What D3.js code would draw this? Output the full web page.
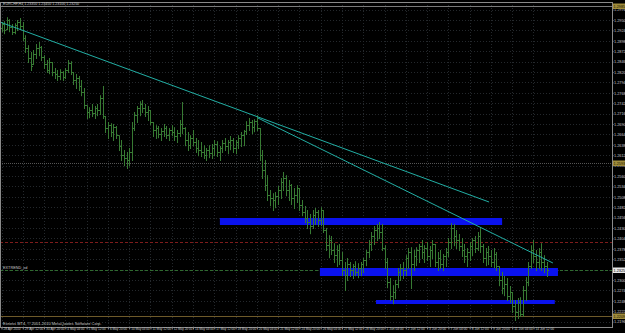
<!DOCTYPE html>
<html>
<head>
<meta charset="utf-8">
<script src="https://cdn.jsdelivr.net/npm/d3@7"></script>
<style>
  body { margin: 0; background: #000; }
  svg { display: block; font-family: "Liberation Sans", Arial, sans-serif; }
</style>
</head>
<body>
<div id="chart"></div>
<script>
// ---- data ----
const symbolName = "EURCHF,H4";
const copyrightText = "Exness MT4, \u00a9 2001-2010 MetaQuotes Software Corp.";
const lineLabel = "EXTREND_ed";

// one label every 8 bars
const timeLabels = ["28 Apr 2010", "29 Apr 12:00", "30 Apr 20:00", "4 May 04:00", "5 May 12:00",
  "6 May 20:00", "10 May 04:00", "11 May 12:00", "12 May 20:00", "14 May 04:00", "17 May 12:00",
  "18 May 20:00", "20 May 04:00", "21 May 12:00", "24 May 20:00", "26 May 04:00", "27 May 12:00",
  "28 May 20:00", "1 Jun 04:00", "2 Jun 12:00", "3 Jun 20:00", "7 Jun 04:00", "8 Jun 12:00",
  "9 Jun 20:00", "11 Jun 04:00", "14 Jun 12:00"];
const timeLabelBars = [0, 8, 16, 24, 32, 40, 48, 56, 64, 72, 80, 88, 96, 104, 112, 120, 128, 136,
  144, 152, 160, 168, 176, 184, 192, 200];

const priceTicks = [1.2976, 1.2950, 1.2924, 1.2898, 1.2872, 1.2846, 1.2820, 1.2794, 1.2768, 1.2742,
  1.2716, 1.2690, 1.2664, 1.2638, 1.2612, 1.2586, 1.2560, 1.2534, 1.2508, 1.2482, 1.2456, 1.2430,
  1.2404, 1.2378, 1.2352, 1.2326, 1.2300, 1.2274, 1.2248, 1.2222, 1.2196];

// open, high, low, close
const ohlc = [
  [1.2930,1.2945,1.2922,1.2940],[1.2940,1.2947,1.2917,1.2925],[1.2927,1.2957,1.2927,1.2950],[1.2950,1.2952,1.2922,1.2932],
  [1.2932,1.2940,1.2915,1.2920],[1.2920,1.2942,1.2917,1.2937],[1.2937,1.2950,1.2925,1.2945],[1.2945,1.2955,1.2927,1.2935],
  [1.2935,1.2945,1.2900,1.2905],[1.2905,1.2912,1.2870,1.2880],[1.2880,1.2887,1.2845,1.2855],[1.2855,1.2870,1.2825,1.2835],
  [1.2840,1.2875,1.2840,1.2865],[1.2865,1.2890,1.2855,1.2880],[1.2880,1.2895,1.2862,1.2882],[1.2882,1.2885,1.2850,1.2857],
  [1.2857,1.2862,1.2830,1.2840],[1.2840,1.2850,1.2820,1.2825],[1.2825,1.2855,1.2817,1.2845],[1.2845,1.2845,1.2812,1.2820],
  [1.2820,1.2830,1.2805,1.2815],[1.2815,1.2825,1.2800,1.2810],[1.2810,1.2827,1.2802,1.2820],[1.2820,1.2822,1.2800,1.2807],
  [1.2807,1.2830,1.2805,1.2825],[1.2825,1.2850,1.2820,1.2842],[1.2842,1.2847,1.2815,1.2820],[1.2820,1.2820,1.2790,1.2800],
  [1.2800,1.2815,1.2780,1.2805],[1.2805,1.2810,1.2775,1.2785],[1.2785,1.2800,1.2762,1.2770],[1.2770,1.2780,1.2730,1.2737],
  [1.2737,1.2737,1.2705,1.2720],[1.2720,1.2732,1.2707,1.2725],[1.2725,1.2740,1.2710,1.2717],[1.2717,1.2735,1.2705,1.2730],
  [1.2730,1.2740,1.2712,1.2725],[1.2725,1.2762,1.2715,1.2755],[1.2755,1.2785,1.2705,1.2710],[1.2710,1.2710,1.2670,1.2680],
  [1.2680,1.2695,1.2655,1.2687],[1.2687,1.2692,1.2660,1.2670],[1.2670,1.2690,1.2650,1.2682],[1.2682,1.2685,1.2655,1.2662],
  [1.2662,1.2662,1.2625,1.2635],[1.2635,1.2650,1.2600,1.2612],[1.2612,1.2625,1.2587,1.2605],[1.2605,1.2620,1.2580,1.2600],
  [1.2600,1.2630,1.2587,1.2620],[1.2620,1.2695,1.2600,1.2680],[1.2680,1.2720,1.2675,1.2712],[1.2712,1.2735,1.2695,1.2730],
  [1.2730,1.2747,1.2712,1.2740],[1.2740,1.2750,1.2720,1.2730],[1.2730,1.2740,1.2710,1.2720],[1.2720,1.2735,1.2700,1.2725],
  [1.2725,1.2725,1.2690,1.2695],[1.2695,1.2695,1.2660,1.2675],[1.2675,1.2687,1.2655,1.2680],[1.2680,1.2685,1.2657,1.2665],
  [1.2665,1.2680,1.2650,1.2672],[1.2672,1.2690,1.2660,1.2680],[1.2680,1.2685,1.2655,1.2662],[1.2662,1.2680,1.2650,1.2675],
  [1.2675,1.2687,1.2662,1.2670],[1.2670,1.2682,1.2650,1.2660],[1.2660,1.2675,1.2645,1.2667],[1.2667,1.2700,1.2660,1.2690],
  [1.2690,1.2745,1.2667,1.2680],[1.2680,1.2682,1.2637,1.2650],[1.2650,1.2670,1.2625,1.2637],[1.2637,1.2662,1.2630,1.2655],
  [1.2655,1.2675,1.2637,1.2645],[1.2645,1.2655,1.2620,1.2630],[1.2630,1.2650,1.2612,1.2625],[1.2625,1.2645,1.2610,1.2620],
  [1.2620,1.2637,1.2605,1.2612],[1.2612,1.2630,1.2600,1.2625],[1.2625,1.2637,1.2607,1.2617],[1.2617,1.2640,1.2605,1.2630],
  [1.2630,1.2650,1.2612,1.2640],[1.2640,1.2647,1.2610,1.2620],[1.2620,1.2635,1.2600,1.2630],[1.2630,1.2650,1.2620,1.2642],
  [1.2642,1.2655,1.2625,1.2635],[1.2635,1.2650,1.2617,1.2645],[1.2645,1.2660,1.2627,1.2650],[1.2650,1.2655,1.2620,1.2630],
  [1.2630,1.2650,1.2617,1.2645],[1.2645,1.2662,1.2630,1.2655],[1.2655,1.2670,1.2635,1.2662],[1.2662,1.2675,1.2637,1.2672],
  [1.2672,1.2697,1.2665,1.2687],[1.2687,1.2705,1.2675,1.2695],[1.2695,1.2700,1.2667,1.2682],[1.2682,1.2702,1.2672,1.2697],
  [1.2697,1.2712,1.2675,1.2680],[1.2680,1.2680,1.2600,1.2612],[1.2612,1.2625,1.2555,1.2575],[1.2575,1.2600,1.2525,1.2537],
  [1.2537,1.2562,1.2500,1.2512],[1.2512,1.2525,1.2487,1.2505],[1.2505,1.2517,1.2475,1.2500],[1.2500,1.2520,1.2482,1.2510],
  [1.2510,1.2535,1.2490,1.2525],[1.2525,1.2555,1.2505,1.2545],[1.2545,1.2570,1.2525,1.2555],[1.2555,1.2562,1.2512,1.2525],
  [1.2525,1.2550,1.2500,1.2537],[1.2537,1.2540,1.2490,1.2505],[1.2505,1.2530,1.2480,1.2512],[1.2512,1.2537,1.2495,1.2530],
  [1.2530,1.2530,1.2475,1.2487],[1.2487,1.2500,1.2462,1.2470],[1.2470,1.2485,1.2445,1.2455],[1.2455,1.2475,1.2430,1.2445],
  [1.2445,1.2465,1.2417,1.2435],[1.2435,1.2475,1.2430,1.2462],[1.2462,1.2480,1.2440,1.2470],[1.2470,1.2475,1.2435,1.2450],
  [1.2450,1.2482,1.2437,1.2475],[1.2475,1.2475,1.2420,1.2425],[1.2425,1.2430,1.2375,1.2387],[1.2387,1.2412,1.2357,1.2400],
  [1.2400,1.2410,1.2365,1.2375],[1.2375,1.2392,1.2345,1.2362],[1.2362,1.2387,1.2335,1.2375],[1.2375,1.2390,1.2340,1.2350],
  [1.2350,1.2370,1.2312,1.2325],[1.2325,1.2345,1.2275,1.2312],[1.2312,1.2355,1.2300,1.2340],[1.2340,1.2345,1.2310,1.2325],
  [1.2325,1.2340,1.2305,1.2335],[1.2335,1.2347,1.2312,1.2320],[1.2320,1.2342,1.2307,1.2330],[1.2330,1.2345,1.2312,1.2340],
  [1.2340,1.2355,1.2320,1.2350],[1.2350,1.2375,1.2337,1.2370],[1.2370,1.2400,1.2357,1.2390],[1.2390,1.2420,1.2375,1.2410],
  [1.2410,1.2435,1.2390,1.2425],[1.2425,1.2440,1.2400,1.2430],[1.2430,1.2445,1.2405,1.2420],[1.2420,1.2440,1.2375,1.2380],
  [1.2380,1.2387,1.2330,1.2345],[1.2345,1.2355,1.2282,1.2295],[1.2295,1.2305,1.2250,1.2260],[1.2260,1.2287,1.2242,1.2270],
  [1.2270,1.2300,1.2255,1.2290],[1.2290,1.2330,1.2282,1.2320],[1.2320,1.2340,1.2300,1.2330],[1.2330,1.2345,1.2305,1.2325],
  [1.2325,1.2362,1.2312,1.2355],[1.2355,1.2380,1.2330,1.2370],[1.2370,1.2382,1.2280,1.2340],[1.2340,1.2375,1.2325,1.2360],
  [1.2360,1.2382,1.2337,1.2375],[1.2375,1.2390,1.2345,1.2385],[1.2385,1.2400,1.2355,1.2370],[1.2370,1.2387,1.2345,1.2380],
  [1.2380,1.2395,1.2350,1.2360],[1.2360,1.2385,1.2335,1.2375],[1.2375,1.2400,1.2355,1.2390],[1.2390,1.2390,1.2335,1.2345],
  [1.2345,1.2370,1.2325,1.2355],[1.2355,1.2375,1.2330,1.2340],[1.2340,1.2365,1.2325,1.2360],[1.2360,1.2380,1.2335,1.2370],
  [1.2370,1.2405,1.2360,1.2395],[1.2395,1.2442,1.2380,1.2430],[1.2430,1.2440,1.2387,1.2410],[1.2410,1.2425,1.2380,1.2400],
  [1.2400,1.2415,1.2375,1.2385],[1.2385,1.2405,1.2360,1.2375],[1.2375,1.2390,1.2345,1.2360],[1.2360,1.2380,1.2335,1.2370],
  [1.2370,1.2395,1.2350,1.2385],[1.2385,1.2405,1.2362,1.2400],[1.2400,1.2410,1.2370,1.2380],[1.2380,1.2420,1.2375,1.2410],
  [1.2410,1.2432,1.2370,1.2385],[1.2385,1.2390,1.2345,1.2355],[1.2355,1.2380,1.2337,1.2370],[1.2370,1.2385,1.2340,1.2360],
  [1.2360,1.2375,1.2335,1.2345],[1.2345,1.2380,1.2332,1.2365],[1.2365,1.2370,1.2325,1.2335],[1.2335,1.2335,1.2287,1.2300],
  [1.2300,1.2320,1.2267,1.2280],[1.2280,1.2310,1.2262,1.2290],[1.2290,1.2305,1.2250,1.2260],[1.2260,1.2285,1.2245,1.2270],
  [1.2270,1.2270,1.2220,1.2235],[1.2235,1.2250,1.2200,1.2220],[1.2220,1.2255,1.2205,1.2245],[1.2245,1.2257,1.2210,1.2215],
  [1.2215,1.2285,1.2210,1.2275],[1.2275,1.2307,1.2250,1.2295],[1.2295,1.2345,1.2287,1.2335],[1.2335,1.2387,1.2330,1.2375],
  [1.2375,1.2400,1.2345,1.2360],[1.2360,1.2375,1.2325,1.2345],[1.2345,1.2380,1.2330,1.2370],[1.2370,1.2392,1.2325,1.2345],
  [1.2345,1.2362,1.2320,1.2335],[1.2335,1.2345,1.2310,1.2325]
];

// trend lines: [bar, price] end points
const trendLine1 = [[-0.6, 1.2945], [183.3, 1.2495]];
const trendLine2 = [[96.4, 1.2705], [207.3, 1.23425]];

// blue zones: [start bar, end bar, top price, bottom price]
const zones = [
  [82.1, 188.2, 1.2455, 1.24375],
  [119.7, 209.2, 1.2330, 1.2310],
  [140.8, 208.0, 1.2250, 1.2240]
];

// horizontal price lines
const upperLevel = 1.2985;
const middleLevel = 1.2593;
const lowerLevel = 1.2209;
const redLevel = 1.2395;
const bidPrice = 1.2325;

// ---- layout ----
const width = 625, height = 333;
const plot = {left: 0, top: 2, right: 612, bottom: 327};

const svg = d3.select("#chart")
    .append("svg")
    .attr("width", width)
    .attr("height", height)
    .style("background", "#000");

const x = d3.scaleLinear()
    .domain([0, 205])
    .range([1.5, 546.8]);

const y = d3.scaleLinear()
    .domain([1.21825, 1.3])
    .range([327, 0]);

const fmt4 = d3.format(".4f");
const fmt5 = d3.format(".5f");

// grid
const grid = svg.append("g").attr("stroke", "#24282c").attr("stroke-dasharray", "1,2");
grid.selectAll("line.h")
    .data(priceTicks)
    .join("line")
    .attr("x1", plot.left).attr("x2", plot.right)
    .attr("y1", d => Math.round(y(d)) + 0.5).attr("y2", d => Math.round(y(d)) + 0.5);
grid.selectAll("line.v")
    .data(timeLabelBars)
    .join("line")
    .attr("x1", d => Math.round(x(d)) + 0.5).attr("x2", d => Math.round(x(d)) + 0.5)
    .attr("y1", plot.top).attr("y2", plot.bottom);

// horizontal levels
function hline(price, color, dash) {
    svg.append("line")
        .attr("x1", plot.left).attr("x2", plot.right)
        .attr("y1", Math.round(y(price)) + 0.5).attr("y2", Math.round(y(price)) + 0.5)
        .attr("stroke", color)
        .attr("stroke-dasharray", dash);
}
hline(upperLevel, "#7a7a7a", null);
hline(middleLevel, "#555", "1,1");
hline(lowerLevel, "#6e5a2a", null);
hline(redLevel, "#7e1c1c", "3,2");
hline(bidPrice, "#2f6a2f", "3,2");

// blue zones
svg.append("g")
    .selectAll("rect")
    .data(zones)
    .join("rect")
    .attr("x", d => x(d[0]))
    .attr("width", d => x(d[1]) - x(d[0]))
    .attr("y", d => y(d[2]))
    .attr("height", d => y(d[3]) - y(d[2]))
    .attr("fill", "#0a12ee");

// bars
const bars = svg.append("g").attr("stroke", "#377a33").attr("stroke-width", 1);
bars.selectAll("line.hl")
    .data(ohlc)
    .join("line")
    .attr("x1", (d, i) => Math.round(x(i)) + 0.5)
    .attr("x2", (d, i) => Math.round(x(i)) + 0.5)
    .attr("y1", d => y(d[1]))
    .attr("y2", d => y(d[2]) + 1);
bars.selectAll("line.o")
    .data(ohlc)
    .join("line")
    .attr("x1", (d, i) => Math.round(x(i)) - 1)
    .attr("x2", (d, i) => Math.round(x(i)))
    .attr("y1", d => Math.round(y(d[0])) + 0.5)
    .attr("y2", d => Math.round(y(d[0])) + 0.5);
bars.selectAll("line.c")
    .data(ohlc)
    .join("line")
    .attr("x1", (d, i) => Math.round(x(i)) + 1)
    .attr("x2", (d, i) => Math.round(x(i)) + 2)
    .attr("y1", d => Math.round(y(d[3])) + 0.5)
    .attr("y2", d => Math.round(y(d[3])) + 0.5);

// trend lines
const tl = d3.line().x(d => x(d[0])).y(d => y(d[1]));
svg.selectAll("path.trend")
    .data([trendLine1, trendLine2])
    .join("path")
    .attr("d", tl)
    .attr("fill", "none")
    .attr("stroke", "#22aea4")
    .attr("stroke-width", 1);

// frame
svg.append("rect")
    .attr("x", plot.left + 0.5).attr("y", plot.top + 0.5)
    .attr("width", plot.right - plot.left).attr("height", plot.bottom - plot.top)
    .attr("fill", "none")
    .attr("stroke", "#8a8a8a");

// price axis
const yAxis = svg.append("g")
    .attr("transform", `translate(${plot.right + 0.5},0)`)
    .call(d3.axisRight(y).tickValues(priceTicks).tickFormat(fmt4).tickSize(1).tickPadding(0.5));
yAxis.select(".domain").remove();
yAxis.selectAll("line").attr("stroke", "#8a8a8a");
yAxis.selectAll("text").attr("fill", "#c8c8c8").style("font-size", "3.8px");

// boxed price labels
function boxLabel(price, bg, fg) {
    const g = svg.append("g").attr("transform", `translate(${plot.right + 1},${Math.round(y(price))})`);
    g.append("rect").attr("x", 0).attr("y", -2.5).attr("width", 12).attr("height", 5.5).attr("fill", bg);
    g.append("text").attr("x", 0.5).attr("y", 1.6).text(fmt4(price))
        .attr("fill", fg).style("font-size", "3.8px");
}
boxLabel(upperLevel, "#a08c3c", "#1a1a00");
boxLabel(middleLevel, "#a08c3c", "#1a1a00");
boxLabel(lowerLevel, "#a08c3c", "#1a1a00");
boxLabel(bidPrice, "#e8e8e8", "#000");

// time axis
const xAxis = svg.append("g")
    .attr("transform", `translate(0,${plot.bottom + 0.5})`)
    .call(d3.axisBottom(x).tickValues(timeLabelBars)
        .tickFormat((d, i) => timeLabels[i]).tickSize(2).tickPadding(0));
xAxis.select(".domain").remove();
xAxis.selectAll("line").attr("stroke", "#8a8a8a");
xAxis.selectAll("text")
    .attr("fill", "#c8c8c8")
    .attr("text-anchor", "start")
    .attr("dx", 1.5)
    .attr("dy", "0.1em")
    .style("font-size", "3.8px")
    .attr("lengthAdjust", "spacingAndGlyphs")
    .attr("textLength", function() { return this.textContent.length * 1.55; });

// title and captions
svg.append("text")
    .attr("x", 3).attr("y", 5)
    .attr("fill", "#c8c8c8")
    .style("font-size", "3.6px")
    .text(`${symbolName}  ${ohlc[ohlc.length - 1].map(fmt5).join(" ")}`);

svg.append("text")
    .attr("x", 3).attr("y", 325)
    .attr("fill", "#c8c8c8")
    .style("font-size", "4px")
    .text(copyrightText);

svg.append("text")
    .attr("x", 3).attr("y", y(bidPrice) - 1)
    .attr("fill", "#c8c8c8")
    .style("font-size", "3.8px")
    .text(lineLabel);
</script>
</body>
</html>
